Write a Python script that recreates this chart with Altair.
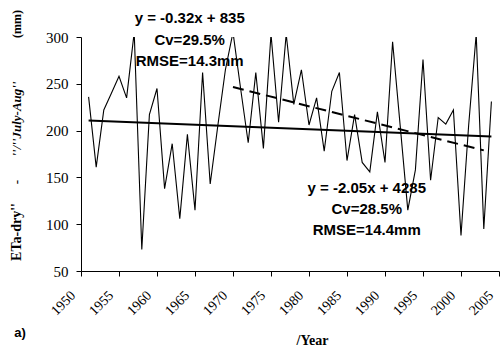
import altair as alt
import pandas as pd

# Seasonal dry-period evapotranspiration, July-August (mm)
years = list(range(1951, 2005))
eta_dry = [236, 161, 222, 240, 258, 235, 305, 73, 217, 245,
           138, 186, 106, 196, 115, 262, 143, 205, 265, 305,
           245, 187, 262, 181, 303, 209, 303, 228, 265, 206,
           235, 178, 242, 262, 168, 217, 166, 156, 220, 166,
           295, 205, 115, 158, 276, 147, 214, 207, 222, 88,
           205, 303, 95, 231]

# Linear trends: whole record and 1970 onwards
trend_names = ["all", "late"]
trend_slopes = [-0.32, -2.05]
trend_intercepts = [835, 4285]
trend_starts = [1951, 1970]
trend_ends = [2004, 2003]

# Equation labels and where they sit (year, mm)
note_texts = ["y = -0.32x + 835", "Cv=29.5%", "RMSE=14.3mm",
              "y = -2.05x + 4285", "Cv=28.5%", "RMSE=14.4mm"]
note_years = [1964.3, 1964.3, 1964.3, 1987.6, 1987.6, 1987.6]
note_values = [320.3, 296.8, 274.4, 138.4, 116.2, 93.8]

x_ticks = list(range(1950, 2006, 5))
y_ticks = [50, 100, 150, 200, 250, 300]

series = pd.DataFrame({"year": years, "eta": eta_dry})

trend_rows = []
for name, s, b, y0, y1 in zip(trend_names, trend_slopes, trend_intercepts,
                              trend_starts, trend_ends):
    for yr in (y0, y1):
        trend_rows.append({"trend": name, "year": yr, "eta": s * yr + b})
trends = pd.DataFrame(trend_rows)

notes = pd.DataFrame({"text": note_texts, "year": note_years, "eta": note_values})

serif = "Liberation Serif"
sans = "Liberation Sans"

x_scale = alt.Scale(domain=[1950, 2005], nice=False, zero=False)
y_scale = alt.Scale(domain=[50, 300], nice=False, zero=False)

x_axis = alt.Axis(values=x_ticks, format="d", labelAngle=-45, labelFont=serif,
                  labelFontSize=14, labelOffset=-13, labelPadding=12,
                  labelOverlap=False, labelFlush=False, labelBound=False,
                  tickSize=5, title="/Year", titleFont=serif, titleFontSize=14,
                  titleFontWeight="bold", titleX=231, titleY=69,
                  titleBaseline="middle")
y_axis = alt.Axis(values=y_ticks, labelFont=serif,
                  labelFontSize=15, tickSize=5, labelPadding=8,
                  labelOverlap=False, labelFlush=False, title=None)

# Shared positional encodings so every layer feeds the same axes
X = alt.X("year:Q", scale=x_scale, axis=x_axis)
Y = alt.Y("eta:Q", scale=y_scale, axis=y_axis)

line = alt.Chart(series).mark_line(color="black", strokeWidth=1.1, clip=True).encode(
    x=X, y=Y
)

trend_all = alt.Chart(trends).transform_filter(alt.datum.trend == "all").mark_line(
    color="black", strokeWidth=2
).encode(x=X, y=Y)

trend_late = alt.Chart(trends).transform_filter(alt.datum.trend == "late").mark_line(
    color="black", strokeWidth=2, strokeDash=[11, 6]
).encode(x=X, y=Y)

note_marks = alt.Chart(notes).mark_text(
    font=sans, fontSize=15, fontWeight="bold", color="black",
    align="center", baseline="middle"
).encode(x=X, y=Y, text="text:N")

# Vertical axis title, built from pieces with their own styles
def ytitle_piece(txt, ypos, size=13, style="normal", weight="bold"):
    return alt.Chart(pd.DataFrame({"t": [txt]})).mark_text(
        font=serif, fontSize=size, fontWeight=weight, fontStyle=style,
        angle=270, align="center", baseline="middle", color="black"
    ).encode(x=alt.value(-64), y=alt.value(ypos), text="t:N")

title_parts = [
    ytitle_piece("ETa-dry''", 195, size=14),
    ytitle_piece("-", 145),
    ytitle_piece("''/''July-Aug''", 82, style="italic"),
    ytitle_piece("(mm)", -13, size=12),
]

panel_tag = alt.Chart(pd.DataFrame({"t": ["a)"]})).mark_text(
    font=sans, fontSize=13, fontWeight="bold", color="black",
    align="center", baseline="middle"
).encode(x=alt.value(-61), y=alt.value(296), text="t:N")

chart = alt.layer(line, trend_all, trend_late, note_marks, *title_parts, panel_tag).properties(
    width=418, height=234,
    autosize=alt.AutoSizeParams(type="none"),
    padding={"left": 81, "top": 37, "right": 1, "bottom": 79},
).configure_view(stroke=None).configure_axis(
    grid=False, domainColor="black", tickColor="black", labelColor="black",
    titleColor="black", domainWidth=1, tickWidth=1
)

chart.save("out.html", embed_options={"renderer": "svg", "actions": False})
